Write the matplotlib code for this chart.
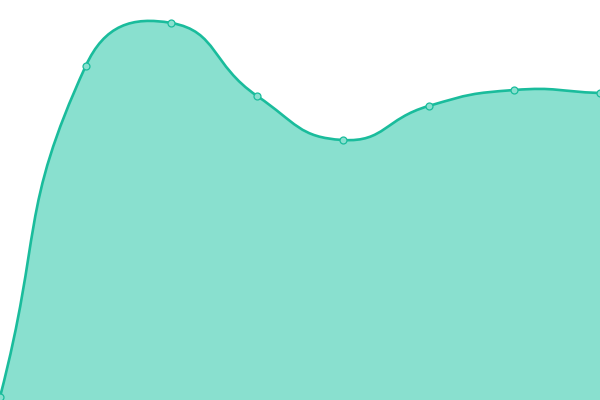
import numpy as np
import matplotlib
matplotlib.use("Agg")
import matplotlib.pyplot as plt
from matplotlib.path import Path
from matplotlib.patches import PathPatch

# categories and series values
categories = ["A", "B", "C", "D", "E", "F", "G", "H"]
values = [3, 334, 377, 304, 260, 294, 310, 307]

LINE = "#1abc9c"
FILL = "#89e0cf"


def smooth_path(xs, ys, smooth=0.5):
    """Bezier path through the points, like an echarts smooth line."""
    pts = np.column_stack([xs, ys]).astype(float)
    n = len(pts)
    cps = []
    for i in range(n):
        p = pts[i]
        prev = pts[i - 1] if i > 0 else p
        nxt = pts[i + 1] if i < n - 1 else p
        v = nxt - prev
        d0 = np.hypot(*(p - prev))
        d1 = np.hypot(*(p - nxt))
        s = d0 + d1
        if s == 0:
            cps.append((p, p))
            continue
        cp0 = p - v * smooth * d0 / s
        cp1 = p + v * smooth * d1 / s
        cps.append((cp0, cp1))
    verts = [pts[0]]
    codes = [Path.MOVETO]
    for i in range(n - 1):
        verts += [cps[i][1], cps[i + 1][0], pts[i + 1]]
        codes += [Path.CURVE4] * 3
    return verts, codes


fig = plt.figure(figsize=(6, 4), dpi=100)
ax = fig.add_axes([0, 0, 1, 1])
ax.set_xlim(0, 600)
ax.set_ylim(0, 400)
ax.axis("off")

xs = np.arange(len(categories)) * 600 / (len(categories) - 1)
verts, codes = smooth_path(xs, values)

# area under the curve
fill_verts = verts + [(xs[-1], 0), (xs[0], 0), verts[0]]
fill_codes = codes + [Path.LINETO, Path.LINETO, Path.CLOSEPOLY]
ax.add_patch(PathPatch(Path(fill_verts, fill_codes), facecolor=FILL,
                       edgecolor="none", zorder=1))
ax.add_patch(PathPatch(Path(verts, codes), facecolor="none",
                       edgecolor=LINE, linewidth=1.9, zorder=2))
ax.plot(xs, values, "o", markersize=5, markerfacecolor=FILL,
        markeredgecolor=LINE, markeredgewidth=0.9, zorder=3, clip_on=False)

fig.savefig("out.png", dpi=100)
